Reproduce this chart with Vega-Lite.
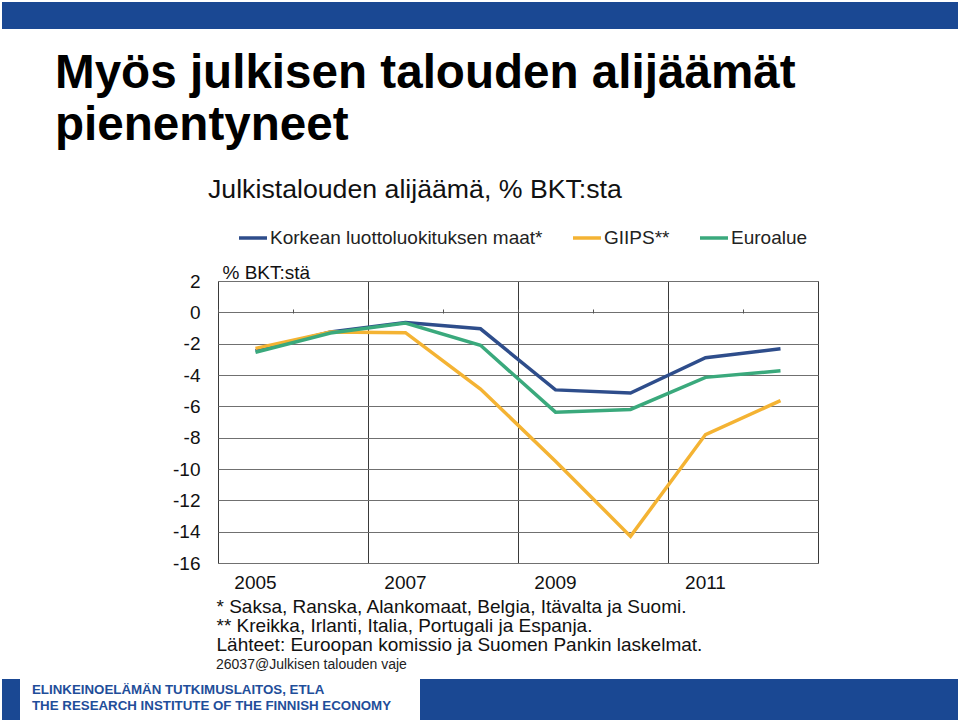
{
  "$schema": "https://vega.github.io/schema/vega-lite/v6.json",
  "padding": {"left": 2, "top": 2, "right": 2, "bottom": 0},
  "background": "white",
  "config": {
    "view": {"stroke": null},
    "font": "Liberation Sans"
  },
  "spacing": 0,
  "vconcat": [
    {
      "width": 956,
      "height": 27,
      "data": {"values": []},
      "mark": "point",
      "encoding": {},
      "view": {"fill": "#1a4893", "stroke": null}
    },
    {
      "width": 956,
      "height": 131,
      "data": {"values": []},
      "mark": "point",
      "encoding": {},
      "title": {
        "text": ["Myös julkisen talouden alijäämät", "pienentyneet"],
        "orient": "bottom",
        "anchor": "start",
        "frame": "group",
        "offset": 0,
        "dx": 53,
        "dy": -72,
        "baseline": "alphabetic",
        "fontSize": 47.6,
        "fontWeight": "bold",
        "lineHeight": 52,
        "color": "#000000"
      }
    },
    {
      "width": 956,
      "height": 102,
      "data": {"values": []},
      "mark": "point",
      "encoding": {},
      "title": {
        "text": "Julkistalouden alijäämä, % BKT:sta",
        "orient": "bottom",
        "anchor": "start",
        "frame": "group",
        "offset": 0,
        "dx": 206,
        "dy": -64,
        "baseline": "alphabetic",
        "fontSize": 26.7,
        "fontWeight": "normal",
        "color": "#111111"
      }
    },
    {
      "bounds": "flush",
      "spacing": 0,
      "hconcat": [
        {
          "width": 216,
          "height": 282,
          "data": {"values": []},
          "mark": "point",
          "encoding": {}
        },
        {
          "width": 600,
          "height": 282,
          "view": {"stroke": "#3a3a3a", "strokeWidth": 1},
          "data": {
            "values": [
              {"year": "2005", "series": "Korkean luottoluokituksen maat*", "value": -2.45},
              {"year": "2006", "series": "Korkean luottoluokituksen maat*", "value": -1.25},
              {"year": "2007", "series": "Korkean luottoluokituksen maat*", "value": -0.65},
              {"year": "2008", "series": "Korkean luottoluokituksen maat*", "value": -1.05},
              {"year": "2009", "series": "Korkean luottoluokituksen maat*", "value": -4.95},
              {"year": "2010", "series": "Korkean luottoluokituksen maat*", "value": -5.15},
              {"year": "2011", "series": "Korkean luottoluokituksen maat*", "value": -2.9},
              {"year": "2012", "series": "Korkean luottoluokituksen maat*", "value": -2.33},
              {"year": "2005", "series": "GIIPS**", "value": -2.3},
              {"year": "2006", "series": "GIIPS**", "value": -1.25},
              {"year": "2007", "series": "GIIPS**", "value": -1.3},
              {"year": "2008", "series": "GIIPS**", "value": -4.9},
              {"year": "2009", "series": "GIIPS**", "value": -9.5},
              {"year": "2010", "series": "GIIPS**", "value": -14.3},
              {"year": "2011", "series": "GIIPS**", "value": -7.8},
              {"year": "2012", "series": "GIIPS**", "value": -5.64},
              {"year": "2005", "series": "Euroalue", "value": -2.55},
              {"year": "2006", "series": "Euroalue", "value": -1.32},
              {"year": "2007", "series": "Euroalue", "value": -0.68},
              {"year": "2008", "series": "Euroalue", "value": -2.1},
              {"year": "2009", "series": "Euroalue", "value": -6.37},
              {"year": "2010", "series": "Euroalue", "value": -6.2},
              {"year": "2011", "series": "Euroalue", "value": -4.15},
              {"year": "2012", "series": "Euroalue", "value": -3.73}
            ]
          },
          "resolve": {"axis": {"x": "independent"}},
          "layer": [
            {
              "mark": {"type": "point", "opacity": 0},
              "encoding": {
                "x": {
                  "field": "year",
                  "type": "ordinal",
                  "scale": {"type": "band", "paddingInner": 0, "paddingOuter": 0},
                  "axis": {
                    "orient": "bottom",
                    "values": ["2007", "2009", "2011"],
                    "bandPosition": 0,
                    "grid": true,
                    "gridColor": "#3a3a3a",
                    "gridWidth": 1,
                    "labels": false,
                    "ticks": false,
                    "domain": false,
                    "title": null
                  }
                },
                "y": {
                  "field": "value",
                  "type": "quantitative",
                  "scale": {"domain": [-16, 2], "nice": false, "zero": false},
                  "axis": {
                    "values": [2, 0, -2, -4, -6, -8, -10, -12, -14, -16],
                    "labelExpr": "replace(datum.label, '\u2212', '-')",
                    "grid": true,
                    "gridColor": "#707070",
                    "gridWidth": 1,
                    "domain": false,
                    "ticks": false,
                    "tickSize": 0,
                    "labelFontSize": 19,
                    "labelPadding": 18,
                    "labelColor": "#111111",
                    "title": "% BKT:stä",
                    "titleAngle": 0,
                    "titleAlign": "left",
                    "titleBaseline": "alphabetic",
                    "titleX": 4,
                    "titleY": -3,
                    "titleFontSize": 19,
                    "titleFontWeight": "normal",
                    "titleColor": "#111111"
                  }
                }
              }
            },
            {
              "mark": {"type": "point", "opacity": 0},
              "encoding": {
                "x": {
                  "field": "year",
                  "type": "ordinal",
                  "scale": {"type": "band", "paddingInner": 0, "paddingOuter": 0},
                  "axis": {
                    "orient": "top",
                    "offset": -32,
                    "values": ["2005", "2006", "2007", "2008", "2009", "2010", "2011", "2012"],
                    "bandPosition": 0,
                    "grid": false,
                    "labels": false,
                    "ticks": true,
                    "tickSize": 4,
                    "tickColor": "#555555",
                    "tickWidth": 1,
                    "domain": false,
                    "title": null
                  }
                },
                "y": {
                  "field": "value",
                  "type": "quantitative",
                  "scale": {"domain": [-16, 2], "nice": false, "zero": false},
                  "axis": {
                    "values": [2, 0, -2, -4, -6, -8, -10, -12, -14, -16],
                    "labelExpr": "replace(datum.label, '\u2212', '-')",
                    "grid": true,
                    "gridColor": "#707070",
                    "gridWidth": 1,
                    "domain": false,
                    "ticks": false,
                    "tickSize": 0,
                    "labelFontSize": 19,
                    "labelPadding": 18,
                    "labelColor": "#111111",
                    "title": "% BKT:stä",
                    "titleAngle": 0,
                    "titleAlign": "left",
                    "titleBaseline": "alphabetic",
                    "titleX": 4,
                    "titleY": -3,
                    "titleFontSize": 19,
                    "titleFontWeight": "normal",
                    "titleColor": "#111111"
                  }
                }
              }
            },
            {
              "mark": {"type": "line", "strokeWidth": 3.5},
              "encoding": {
                "x": {
                  "field": "year",
                  "type": "ordinal",
                  "bandPosition": 0.5,
                  "scale": {"type": "band", "paddingInner": 0, "paddingOuter": 0},
                  "axis": {
                    "orient": "bottom",
                    "values": ["2005", "2007", "2009", "2011"],
                    "grid": false,
                    "ticks": false,
                    "tickSize": 0,
                    "domain": false,
                    "labelAngle": 0,
                    "labelFontSize": 19,
                    "labelPadding": 10,
                    "labelColor": "#111111",
                    "title": [
                      "*  Saksa, Ranska, Alankomaat, Belgia, Itävalta ja Suomi.",
                      "** Kreikka, Irlanti, Italia, Portugali ja Espanja.",
                      "Lähteet: Euroopan komissio ja Suomen Pankin laskelmat."
                    ],
                    "titleX": -2,
                    "titleY": 49,
                    "titleAlign": "left",
                    "titleBaseline": "alphabetic",
                    "titleFontSize": 19,
                    "titleFontWeight": "normal",
                    "titleLineHeight": 19,
                    "titleColor": "#111111"
                  }
                },
                "y": {
                  "field": "value",
                  "type": "quantitative",
                  "scale": {"domain": [-16, 2], "nice": false, "zero": false},
                  "axis": {
                    "values": [2, 0, -2, -4, -6, -8, -10, -12, -14, -16],
                    "labelExpr": "replace(datum.label, '\u2212', '-')",
                    "grid": true,
                    "gridColor": "#707070",
                    "gridWidth": 1,
                    "domain": false,
                    "ticks": false,
                    "tickSize": 0,
                    "labelFontSize": 19,
                    "labelPadding": 18,
                    "labelColor": "#111111",
                    "title": "% BKT:stä",
                    "titleAngle": 0,
                    "titleAlign": "left",
                    "titleBaseline": "alphabetic",
                    "titleX": 4,
                    "titleY": -3,
                    "titleFontSize": 19,
                    "titleFontWeight": "normal",
                    "titleColor": "#111111"
                  }
                },
                "color": {
                  "field": "series",
                  "type": "nominal",
                  "scale": {
                    "domain": ["Korkean luottoluokituksen maat*", "GIIPS**", "Euroalue"],
                    "range": ["#2e4d8b", "#f4b333", "#3aa97c"]
                  },
                  "legend": {
                    "orient": "none",
                    "legendX": 235,
                    "legendY": 220,
                    "direction": "horizontal",
                    "title": null,
                    "symbolType": "stroke",
                    "symbolSize": 784,
                    "symbolStrokeWidth": 3.5,
                    "labelFontSize": 19,
                    "labelColor": "#222222",
                    "labelOffset": 1,
                    "columnPadding": 23,
                    "labelLimit": 400,
                    "padding": 0
                  }
                }
              }
            }
          ]
        }
      ]
    },
    {
      "width": 956,
      "height": 24,
      "data": {"values": []},
      "mark": "point",
      "encoding": {},
      "title": {
        "text": "26037@Julkisen talouden vaje",
        "orient": "bottom",
        "anchor": "start",
        "frame": "group",
        "offset": 0,
        "dx": 214,
        "dy": -10,
        "baseline": "alphabetic",
        "fontSize": 14,
        "fontWeight": "normal",
        "color": "#222222"
      }
    },
    {
      "bounds": "flush",
      "spacing": 0,
      "hconcat": [
        {
          "width": 18,
          "height": 43,
          "data": {"values": []},
          "mark": "point",
          "encoding": {},
          "view": {"fill": "#1a4893", "stroke": null}
        },
        {
          "width": 400,
          "height": 43,
          "data": {"values": []},
          "mark": "point",
          "encoding": {},
          "title": {
            "text": ["ELINKEINOELÄMÄN TUTKIMUSLAITOS, ETLA", "THE RESEARCH INSTITUTE OF THE FINNISH ECONOMY"],
            "orient": "bottom",
            "anchor": "start",
            "frame": "group",
            "offset": 0,
            "dx": 12,
            "dy": -28,
            "baseline": "alphabetic",
            "fontSize": 13.3,
            "fontWeight": "bold",
            "lineHeight": 16,
            "color": "#1f4e9a"
          }
        },
        {
          "width": 538,
          "height": 43,
          "data": {"values": []},
          "mark": "point",
          "encoding": {},
          "view": {"fill": "#1a4893", "stroke": null}
        }
      ]
    }
  ]
}
